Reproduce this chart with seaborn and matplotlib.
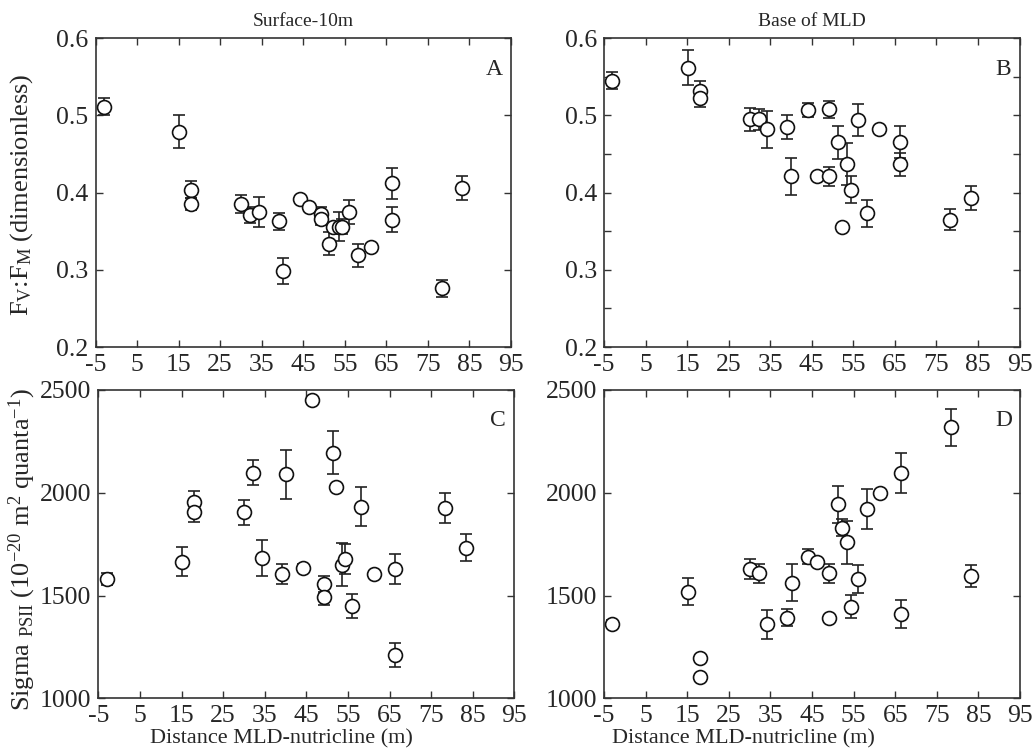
import numpy as np
import pandas as pd
import matplotlib
matplotlib.use("Agg")
import matplotlib.pyplot as plt
import seaborn as sns

# Distance between mixed-layer depth and nutricline for each station (m)
distance = [-3.0, 15.2, 18.0, 18.0, 30.1, 32.2, 34.3, 39.1, 40.1, 44.1, 46.3, 49.2,
            49.2, 51.3, 52.2, 53.5, 54.4, 56.1, 58.2, 61.3, 66.3, 66.3, 78.3, 83.3]

# Fv:Fm, surface to 10 m
fvfm_surface = [0.511, 0.479, 0.404, 0.385, 0.385, 0.371, 0.375, 0.363, 0.298, 0.392, 0.381, 0.372,
                0.366, 0.334, 0.356, 0.356, 0.356, 0.375, 0.319, 0.330, 0.412, 0.365, 0.276, 0.406]
fvfm_surface_err = [0.011, 0.021, 0.011, 0.008, 0.012, 0.010, 0.019, 0.011, 0.017, 0.0, 0.0, 0.010,
                    0.008, 0.015, 0.0, 0.019, 0.010, 0.015, 0.015, 0.0, 0.020, 0.016, 0.011, 0.015]

# Fv:Fm, base of the mixed layer
fvfm_base = [0.545, 0.562, 0.532, 0.523, 0.495, 0.495, 0.482, 0.485, 0.421, 0.507, 0.422, 0.508,
             0.421, 0.465, 0.356, 0.437, 0.404, 0.494, 0.373, 0.482, 0.466, 0.437, 0.365, 0.393]
fvfm_base_err = [0.011, 0.023, 0.013, 0.012, 0.015, 0.014, 0.024, 0.015, 0.024, 0.009, 0.0, 0.011,
                 0.012, 0.022, 0.0, 0.027, 0.018, 0.021, 0.018, 0.0, 0.021, 0.015, 0.014, 0.015]

# Sigma PSII, surface to 10 m
sigma_surface = [1581, 1665, 1957, 1905, 1905, 2098, 1684, 1605, 2090, 1633, 2451, 1555,
                 1492, 2195, 2030, 1649, 1678, 1449, 1932, 1605, 1629, 1211, 1924, 1733]
sigma_surface_err = [30, 69, 50, 45, 60, 60, 88, 50, 120, 20, 0, 40,
                     40, 105, 0, 105, 75, 60, 95, 0, 75, 60, 73, 65]

# Sigma PSII, base of the mixed layer
sigma_base = [1360, 1519, 1198, 1103, 1629, 1608, 1360, 1393, 1563, 1689, 1665, 1608,
              1392, 1945, 1830, 1759, 1446, 1581, 1921, 1997, 2098, 1409, 2319, 1595]
sigma_base_err = [20, 65, 0, 0, 50, 45, 70, 40, 90, 35, 0, 45,
                  0, 90, 40, 105, 57, 67, 95, 0, 97, 67, 90, 55]

column_titles = ["Surface-10m", "Base of MLD"]
panel_letters = ["A", "B", "C", "D"]
x_ticks = list(range(-5, 96, 10))

sns.set_theme(style="ticks")
plt.rcParams["font.family"] = ["Liberation Serif", "DejaVu Serif"]
plt.rcParams["mathtext.fontset"] = "custom"
plt.rcParams["mathtext.rm"] = "Liberation Serif"
plt.rcParams["mathtext.it"] = "Liberation Serif:italic"
plt.rcParams["mathtext.bf"] = "Liberation Serif:bold"

W, H = 1033, 754
fig = plt.figure(figsize=(W / 100, H / 100), dpi=100)


def axes_box(left, top, right, bottom):
    return [left / W, 1 - bottom / H, (right - left) / W, (bottom - top) / H]


boxes = [
    axes_box(95.5, 38.3, 511.0, 347.0),
    axes_box(604.0, 38.3, 1019.5, 347.0),
    axes_box(98.3, 390.0, 514.3, 698.3),
    axes_box(604.0, 390.0, 1020.0, 698.3),
]

panels = [
    (fvfm_surface, fvfm_surface_err),
    (fvfm_base, fvfm_base_err),
    (sigma_surface, sigma_surface_err),
    (sigma_base, sigma_base_err),
]

for i, (box, (vals, errs)) in enumerate(zip(boxes, panels)):
    ax = fig.add_axes(box)
    df = pd.DataFrame({"distance": distance, "value": vals, "err": errs})
    ax.errorbar(df["distance"], df["value"], yerr=df["err"], fmt="none",
                ecolor="#222222", elinewidth=1.2, capsize=4.2, capthick=1.2, zorder=2)
    sns.scatterplot(data=df, x="distance", y="value", ax=ax, marker="o", s=100,
                    facecolor="white", edgecolor="#111111", linewidth=1.2, zorder=3,
                    legend=False)

    ax.set_xlim(-5, 95)
    ax.set_xticks(x_ticks)
    ax.set_xticklabels([str(t) for t in x_ticks])
    if i < 2:
        ax.set_ylim(0.2, 0.6)
        ax.set_yticks([0.2, 0.3, 0.4, 0.5, 0.6])
        ax.set_yticklabels(["0.2", "0.3", "0.4", "0.5", "0.6"])
        if i == 1:
            ax.set_yticks([0.25, 0.35, 0.45, 0.55], minor=True)
        ax.set_title(column_titles[i], fontsize=14, pad=9)
    else:
        ax.set_ylim(1000, 2500)
        ax.set_yticks([1000, 1500, 2000, 2500])
        ax.set_yticklabels(["1000", "1500", "2000", "2500"])

    ax.set_xlabel("")
    ax.set_ylabel("")
    ax.tick_params(axis="both", which="both", direction="in", top=True, right=True,
                   length=5, width=1.0, color="#333333", labelsize=18.5, pad=5)
    ax.tick_params(axis="y", which="minor", length=5)
    for spine in ax.spines.values():
        spine.set_linewidth(1.2)
        spine.set_color("#333333")
    ax.text(0.96, 0.90, panel_letters[i], transform=ax.transAxes, ha="center",
            va="center", fontsize=17)

fig.text(22 / W, 1 - 195 / H, r"F$_\mathrm{V}$:F$_\mathrm{M}$ (dimensionless)",
         rotation=90, ha="center", va="center", fontsize=19)
fig.text(22 / W, 1 - 550 / H,
         r"Sigma $_\mathrm{PSII}$ (10$^{-20}$ m$^{2}$ quanta$^{-1}$)",
         rotation=90, ha="center", va="center", fontsize=19)
fig.text(281 / W, 1 - 739 / H, "Distance MLD-nutricline (m)", ha="center",
         va="center", fontsize=16)
fig.text(743 / W, 1 - 739 / H, "Distance MLD-nutricline (m)", ha="center",
         va="center", fontsize=16)

fig.savefig("out.png", dpi=100, facecolor="white")
